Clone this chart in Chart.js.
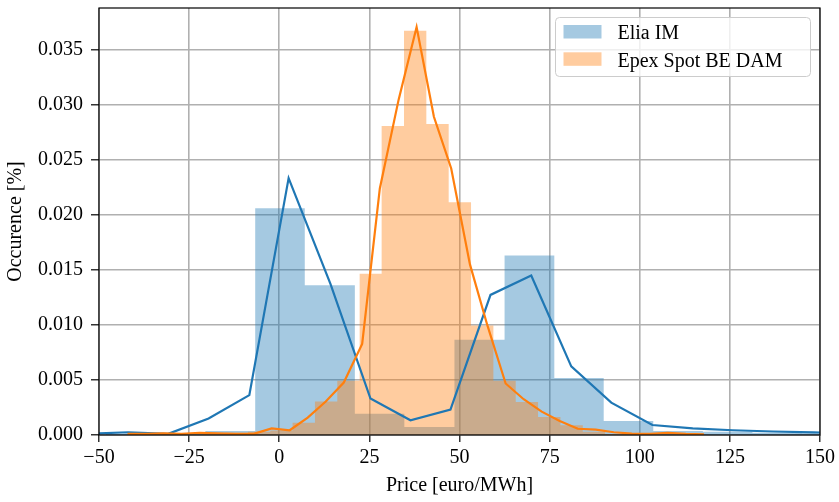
<!DOCTYPE html>
<html><head><meta charset="utf-8">
<script src="https://cdn.jsdelivr.net/npm/chart.js@4.4.0/dist/chart.umd.min.js"></script>
<style>html,body{margin:0;padding:0;background:#fff}#wrap{width:839px;height:502px}</style>
</head><body><div id="wrap"><canvas id="c" width="839" height="502"></canvas></div>
<script>
// ---- data ----
const xTicks = [-50, -25, 0, 25, 50, 75, 100, 125, 150];
const yTicks = [0, 0.005, 0.010, 0.015, 0.020, 0.025, 0.030, 0.035];

const seriesNames = ['Elia IM', 'Epex Spot BE DAM'];

const eliaBinEdges = [-48.1, -34.3, -20.5, -6.67, 7.08, 20.97, 34.7, 48.6, 62.5, 76.3, 90.0, 103.75, 117.5, 131.25, 145.0, 158.75];
const eliaBinHeights = [0.0001, 0.0001, 0.00036, 0.0206, 0.0136, 0.00194, 0.00073, 0.00866, 0.01632, 0.00517, 0.00128, 0.00036, 0.0003, 0.0002, 0.00015];

const epexBinEdges = [-21.1, -14.9, -8.7, -2.5, 3.7, 9.9, 16.1, 22.3, 28.4, 34.6, 40.8, 47.0, 53.2, 59.4, 65.6, 71.8, 78.0, 84.2, 90.4, 96.6, 102.8];
const epexBinHeights = [0.0001, 0.0002, 0.0003, 0.0004, 0.00112, 0.00304, 0.00492, 0.01465, 0.02808, 0.03674, 0.02826, 0.02115, 0.00994, 0.00492, 0.003, 0.00164, 0.00088, 0.0003, 0.0001, 0.0001];

const eliaLineX = [-52.8, -41.9, -30.8, -19.6, -8.3, 2.6, 14.2, 25.3, 36.4, 47.5, 58.6, 69.9, 81.0, 92.1, 103.5, 114.7, 125.8, 137.0, 148.3, 159.4];
const eliaLineY = [0.0001, 0.00025, 0.0001, 0.0015, 0.00362, 0.02334, 0.01374, 0.00331, 0.00134, 0.0023, 0.01273, 0.01449, 0.00623, 0.00294, 0.00091, 0.0006, 0.00043, 0.00032, 0.00023, 0.0002];

const epexLineX = [-42.1, -37.1, -32.1, -27.1, -22.1, -17.1, -12.1, -7.1, -2.1, 2.9, 7.9, 12.9, 17.9, 23.0, 27.9, 33.1, 38.1, 42.9, 47.7, 52.9, 57.7, 62.8, 67.8, 72.8, 77.8, 82.8, 87.8, 92.8, 97.8, 102.8, 107.8, 112.8, 117.8];
const epexLineY = [0.0001, 0.0001, 0.00015, 0.0001, 0.0002, 0.00015, 0.0001, 0.0001, 0.0006, 0.00043, 0.00158, 0.00304, 0.00477, 0.00827, 0.0224, 0.03045, 0.03707, 0.02892, 0.02422, 0.0155, 0.0100, 0.00468, 0.00325, 0.00212, 0.00128, 0.00057, 0.00048, 0.00025, 0.00012, 0.0001, 0.0002, 0.0001, 0.00005];

// ---- helpers ----
function histPoints(edges, heights) {
  const pts = heights.map((h, i) => ({x: edges[i], y: h}));
  pts.push({x: edges[edges.length - 1], y: 0});
  return pts;
}
function linePoints(xs, ys) { return xs.map((x, i) => ({x: x, y: ys[i]})); }
function fmtX(v) { return v < 0 ? '\u2212' + Math.abs(v) : String(v); }

const FONT = "'Liberation Serif', 'Times New Roman', serif";
Chart.defaults.font.family = FONT;
Chart.defaults.font.size = 20;
Chart.defaults.color = '#000';

const blue = '#1f77b4', orange = '#ff7f0e';
const blueFill = 'rgba(31,119,180,0.4)', orangeFill = 'rgba(255,127,14,0.4)';

const framePlugin = {
  id: 'frame',
  afterDraw(chart) {
    const {ctx, chartArea: a} = chart;
    ctx.save();
    ctx.strokeStyle = '#000';
    ctx.lineWidth = 1.2;
    ctx.strokeRect(a.left, a.top, a.right - a.left, a.bottom - a.top);
    // legend
    const bx = 555.5, by = 17.5, bw = 255, bh = 59, r = 4;
    ctx.beginPath();
    ctx.moveTo(bx + r, by);
    ctx.lineTo(bx + bw - r, by); ctx.quadraticCurveTo(bx + bw, by, bx + bw, by + r);
    ctx.lineTo(bx + bw, by + bh - r); ctx.quadraticCurveTo(bx + bw, by + bh, bx + bw - r, by + bh);
    ctx.lineTo(bx + r, by + bh); ctx.quadraticCurveTo(bx, by + bh, bx, by + bh - r);
    ctx.lineTo(bx, by + r); ctx.quadraticCurveTo(bx, by, bx + r, by);
    ctx.closePath();
    ctx.fillStyle = 'rgba(255,255,255,0.8)';
    ctx.fill();
    ctx.strokeStyle = '#cccccc';
    ctx.lineWidth = 1;
    ctx.stroke();
    const items = [chart.data.datasets[0], chart.data.datasets[1]];
    const rowsY = [25, 52.3];
    ctx.font = '20px ' + FONT;
    ctx.textBaseline = 'alphabetic';
    ctx.textAlign = 'left';
    items.forEach((ds, i) => {
      ctx.fillStyle = ds.backgroundColor;
      ctx.fillRect(563.5, rowsY[i], 38, 13.5);
      ctx.fillStyle = '#000';
      ctx.fillText(ds.label, 617.5, rowsY[i] + 14.2);
    });
    ctx.restore();
  }
};

new Chart(document.getElementById('c'), {
  type: 'line',
  data: {
    datasets: [
      {label: seriesNames[0], data: histPoints(eliaBinEdges, eliaBinHeights), stepped: true,
       fill: 'origin', backgroundColor: blueFill, borderWidth: 0, borderColor: 'rgba(0,0,0,0)', pointRadius: 0, order: 4},
      {label: seriesNames[1], data: histPoints(epexBinEdges, epexBinHeights), stepped: true,
       fill: 'origin', backgroundColor: orangeFill, borderWidth: 0, borderColor: 'rgba(0,0,0,0)', pointRadius: 0, order: 3},
      {label: seriesNames[0] + ' line', data: linePoints(eliaLineX, eliaLineY), borderColor: blue,
       borderWidth: 2.2, pointRadius: 0, tension: 0, fill: false, order: 2},
      {label: seriesNames[1] + ' line', data: linePoints(epexLineX, epexLineY), borderColor: orange,
       borderWidth: 2.2, pointRadius: 0, tension: 0, fill: false, order: 1}
    ]
  },
  options: {
    responsive: false,
    animation: false,
    devicePixelRatio: 1,
    layout: {padding: {top: 8, right: 19, left: 0, bottom: 0}},
    plugins: {legend: {display: false}, tooltip: {enabled: false}},
    scales: {
      x: {
        type: 'linear', min: -50, max: 150,
        afterBuildTicks: s => { s.ticks = xTicks.map(v => ({value: v})); },
        ticks: {callback: v => fmtX(v), padding: 4, maxRotation: 0, autoSkip: false},
        grid: {color: '#b0b0b0', lineWidth: 1.6, tickColor: '#000', tickWidth: 1.2, tickLength: 7},
        border: {display: false},
        title: {display: true, text: 'Price [euro/MWh]', padding: {top: 0, bottom: 4}},
        afterFit: s => { s.height = 67; s.paddingLeft = 0; s.paddingRight = 0; }
      },
      y: {
        type: 'linear', min: 0, max: 0.0388,
        afterBuildTicks: s => { s.ticks = yTicks.map(v => ({value: v})); },
        ticks: {callback: v => Number(v).toFixed(3), padding: 8, autoSkip: false},
        grid: {color: '#b0b0b0', lineWidth: 1.6, tickColor: '#000', tickWidth: 1.2, tickLength: 8},
        border: {display: false},
        title: {display: true, text: 'Occurence [%]', padding: {top: 4, bottom: 0}},
        afterFit: s => { s.width = 99; s.paddingTop = 0; s.paddingBottom = 0; }
      }
    }
  },
  plugins: [framePlugin]
});
</script>
</body></html>
